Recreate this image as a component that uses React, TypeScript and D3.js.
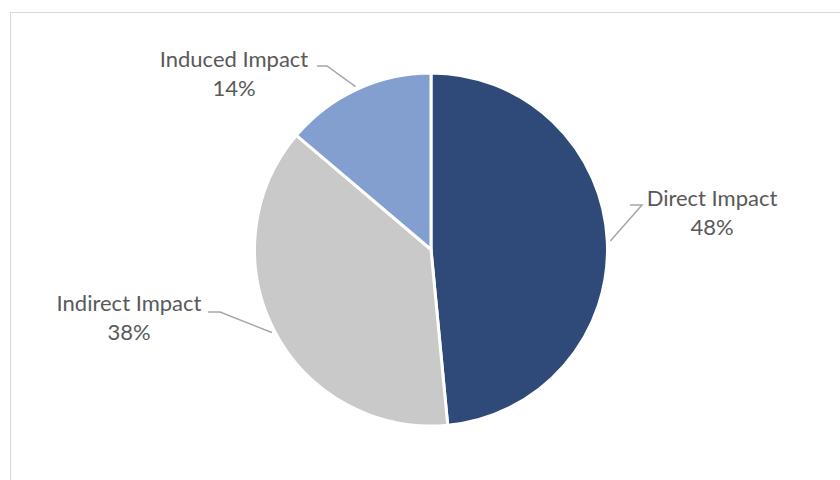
import React from "react";
import * as d3 from "d3";

const categories = ["Direct Impact", "Indirect Impact", "Induced Impact"];
const values = [48.49, 37.71, 13.8];
const colors = ["#2F4A78", "#C9C9C9", "#839FCF"];

// label layout: text center x, first baseline y, leader elbow (x,y) and horizontal end x
const labelLayout = [
  { cx: 712, by: 206, elbowX: 642, lineY: 205, hEnd: 630 },
  { cx: 129, by: 311, elbowX: 220, lineY: 312, hEnd: 208 },
  { cx: 234, by: 67, elbowX: 327, lineY: 66, hEnd: 317 },
];

export default function App() {
  const W = 840, H = 480;
  const cx = 431, cy = 249.5, r = 176.5;
  const total = d3.sum(values);
  const pie = d3.pie<number>().sort(null).value((d) => d)(values);
  const arc = d3.arc<d3.PieArcDatum<number>>().innerRadius(0).outerRadius(r);
  const leaderArc = d3.arc<d3.PieArcDatum<number>>().innerRadius(r + 3).outerRadius(r + 3);
  const font = "Lato, 'Open Sans', sans-serif";
  return (
    <svg width={W} height={H} style={{ position: "absolute", left: 0, top: 0 }}>
      <rect x={0} y={0} width={W} height={H} fill="#fff" />
      <rect x={10.5} y={12.5} width={W} height={H} fill="none" stroke="#D9D9D9" strokeWidth={1} />
      <g transform={`translate(${cx},${cy})`}>
        {pie.map((p, i) => (
          <path key={i} d={arc(p) || ""} fill={colors[i]} stroke="#fff" strokeWidth={3} strokeLinejoin="round" />
        ))}
      </g>
      {pie.map((p, i) => {
        const L = labelLayout[i];
        const [px, py] = leaderArc.centroid(p);
        return (
          <polyline
            key={"l" + i}
            points={`${L.hEnd},${L.lineY} ${L.elbowX},${L.lineY} ${cx + px},${cy + py}`}
            fill="none"
            stroke="#A6A6A6"
            strokeWidth={1.5}
          />
        );
      })}
      {pie.map((p, i) => {
        const L = labelLayout[i];
        return (
          <text key={"t" + i} x={L.cx} y={L.by} textAnchor="middle" fontFamily={font} fontSize={22} fill="#595959">
            <tspan x={L.cx}>{categories[i]}</tspan>
            <tspan x={L.cx} dy={29}>{Math.round((values[i] / total) * 100)}%</tspan>
          </text>
        );
      })}
    </svg>
  );
}
